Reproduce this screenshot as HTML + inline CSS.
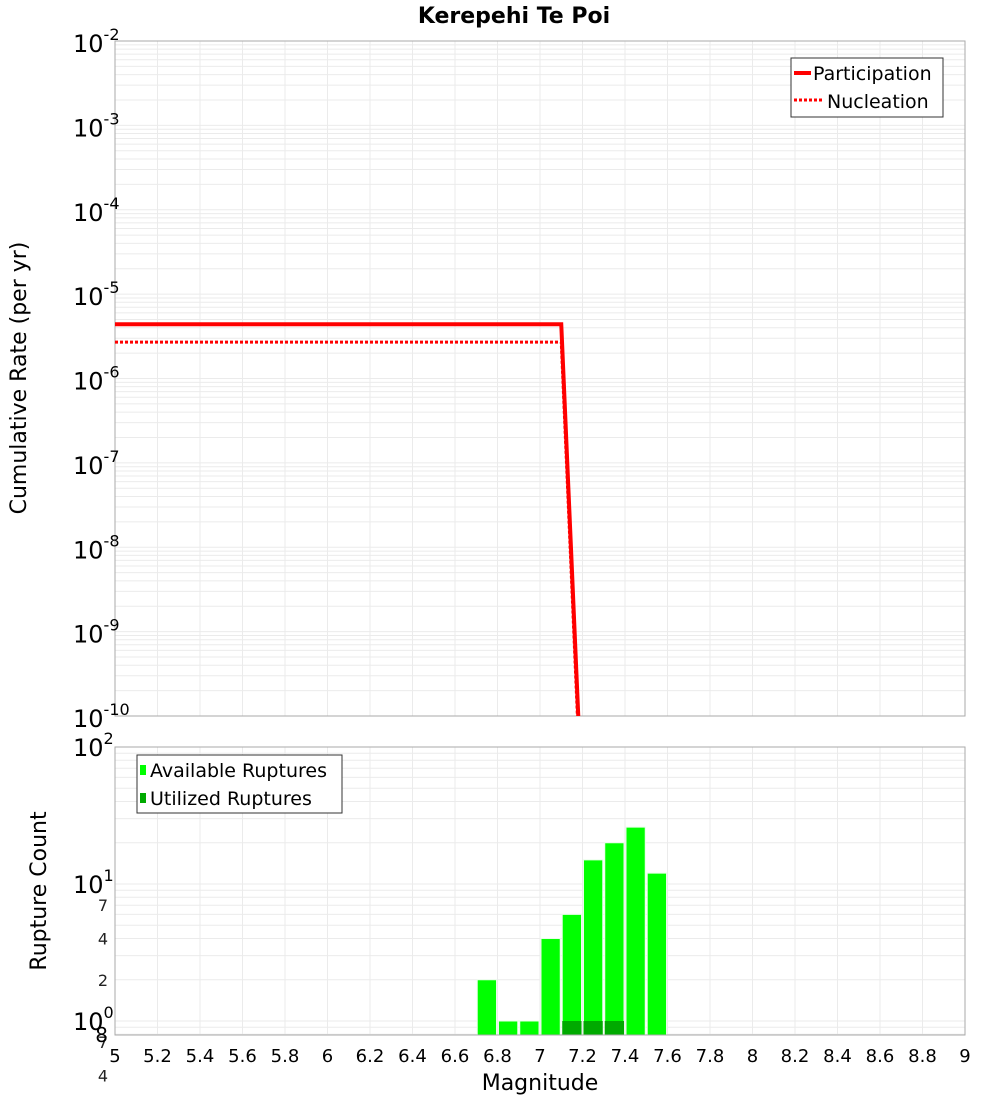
<!DOCTYPE html>
<html><head><meta charset="utf-8"><style>
body{margin:0;background:#fff}
svg{font-family:"DejaVu Sans","Liberation Sans",sans-serif}
</style></head><body>
<svg id="chart" width="1000" height="1100" xmlns="http://www.w3.org/2000/svg">
<text x="514" y="23" text-anchor="middle" font-size="22" font-weight="bold">Kerepehi Te Poi</text>
<g id="topg"></g>
<g id="botg"></g>
<text transform="translate(26,378) rotate(-90)" text-anchor="middle" font-size="22">Cumulative Rate (per yr)</text>
<text transform="translate(46,891) rotate(-90)" text-anchor="middle" font-size="22">Rupture Count</text>
<text x="540" y="1090" text-anchor="middle" font-size="22">Magnitude</text>
</svg>
<script>
const partMag=[5,7.1,7.2];
const partRate=[4.4e-6,4.4e-6,7e-12];
const nuclMag=[5,7.1,7.2];
const nuclRate=[2.7e-6,2.7e-6,4e-12];
const binMag=[6.75,6.85,6.95,7.05,7.15,7.25,7.35,7.45,7.55];
const availCount=[2,1,1,4,6,15,20,26,12];
const usedCount=[0,0,0,0,1,1,1,0,0];
const xTicks=[5,5.2,5.4,5.6,5.8,6,6.2,6.4,6.6,6.8,7,7.2,7.4,7.6,7.8,8,8.2,8.4,8.6,8.8,9];
const topExp=[-2,-3,-4,-5,-6,-7,-8,-9,-10];

const NS="http://www.w3.org/2000/svg";
const X0=115,X1=965;
const xs=m=>X0+(m-5)/4*(X1-X0);
const T0=41,T1=716;
const yt=v=>T0+(-2-Math.log10(v))/8*(T1-T0);
const B0=747,B1=1035;
const BD=137;
const yb=v=>B0+(2-Math.log10(v))*BD;
function mk(p,tag,at,txt){const e=document.createElementNS(NS,tag);for(const k in at)e.setAttribute(k,at[k]);if(txt!==undefined)e.textContent=txt;p.appendChild(e);return e;}
const topG=document.getElementById('topg'),botG=document.getElementById('botg');
const svgEl=document.getElementById('chart');
const defs=mk(svgEl,'defs',{});
const c1=mk(defs,'clipPath',{id:'ct'});mk(c1,'rect',{x:X0,y:T0,width:X1-X0,height:T1-T0});
for(let e=-10;e<-2;e++){for(let k=1;k<10;k++){const y=yt(k*Math.pow(10,e));const g=mk(topG,'line',{x1:X0,x2:X1,y1:y,y2:y,stroke:'#ebebeb','stroke-width':1});

}}
xTicks.forEach(m=>{const g=mk(topG,'line',{x1:xs(m),x2:xs(m),y1:T0,y2:T1,stroke:'#ebebeb'});


const h=mk(botG,'line',{x1:xs(m),x2:xs(m),y1:B0,y2:B1,stroke:'#ebebeb'});

});
const fr=mk(topG,'rect',{x:X0,y:T0,width:X1-X0,height:T1-T0,fill:'none',stroke:'#aaa'});


topExp.forEach(e=>{const y=yt(Math.pow(10,e));const t=mk(topG,'text',{x:73,y:y+11,'font-size':24});


t.textContent='10';mk(t,'tspan',{dy:-12,'font-size':16},String(e));});
const g1=mk(topG,'g',{'clip-path':'url(#ct)'});
const pl=mk(g1,'polyline',{points:partMag.map((m,i)=>xs(m)+','+yt(partRate[i])).join(' '),fill:'none',stroke:'#f00','stroke-width':4});


const nl=mk(g1,'polyline',{points:nuclMag.map((m,i)=>xs(m)+','+yt(nuclRate[i])).join(' '),fill:'none',stroke:'#f00','stroke-width':3,'stroke-dasharray':'3,2'});


const lg=mk(topG,'g',{});


mk(lg,'rect',{x:791,y:58,width:152,height:59,fill:'#fff',stroke:'#333'});
mk(lg,'line',{x1:794,x2:811,y1:73,y2:73,stroke:'#f00','stroke-width':4});
mk(lg,'text',{x:813,y:80,'font-size':19},'Participation');
mk(lg,'line',{x1:794,x2:822,y1:100,y2:100,stroke:'#f00','stroke-width':3,'stroke-dasharray':'3,2'});
mk(lg,'text',{x:827,y:108,'font-size':19},'Nucleation');
for(let e=-1;e<2;e++){for(let k=1;k<10;k++){const v=k*Math.pow(10,e);const y=yb(v);if(y>B1||y<B0)continue;const g=mk(botG,'line',{x1:X0,x2:X1,y1:y,y2:y,stroke:'#ebebeb'});

}}
binMag.forEach((m,i)=>{const x=xs(m-0.05)+1,w=xs(m+0.05)-xs(m-0.05)-2;
const y=yb(availCount[i]);const r=mk(botG,'rect',{x:x,y:y,width:w,height:B1-y,fill:'#00ff00',stroke:'#e8ffe8','stroke-width':1});


if(usedCount[i]>0){const y2=yb(usedCount[i]);const u=mk(botG,'rect',{x:x,y:y2,width:w,height:B1-y2,fill:'#00aa00'});

}});
const fb=mk(botG,'rect',{x:X0,y:B0,width:X1-X0,height:B1-B0,fill:'none',stroke:'#aaa'});


[[2,'10','2'],[1,'10','1'],[0,'10','0']].forEach(a=>{const y=yb(Math.pow(10,a[0]));const t=mk(botG,'text',{x:73,y:y+9,'font-size':24});


t.textContent=a[1];mk(t,'tspan',{dy:-12,'font-size':16},a[2]);});
[7,4,2,70,40,20].forEach(v=>{const y=yb(v/10);const t=mk(botG,'text',{x:108,y:y+6,'font-size':16,'text-anchor':'end','fill':'#222'},String(v>9?v/10:v));

});
const t8=mk(botG,'text',{x:108,y:1042,'font-size':20,'text-anchor':'end'},'8');


xTicks.forEach(m=>{const t=mk(botG,'text',{x:xs(m),y:1062,'font-size':18,'text-anchor':'middle'},String(m));

});
const bl=mk(botG,'g',{});


mk(bl,'rect',{x:137,y:755,width:205,height:58,fill:'#fff',stroke:'#333'});
mk(bl,'rect',{x:140,y:765,width:6,height:10,fill:'#00ff00'});
mk(bl,'text',{x:150,y:777,'font-size':19},'Available Ruptures');
mk(bl,'rect',{x:140,y:793,width:6,height:10,fill:'#00aa00'});
mk(bl,'text',{x:150,y:805,'font-size':19},'Utilized Ruptures');
</script>
</body></html>
